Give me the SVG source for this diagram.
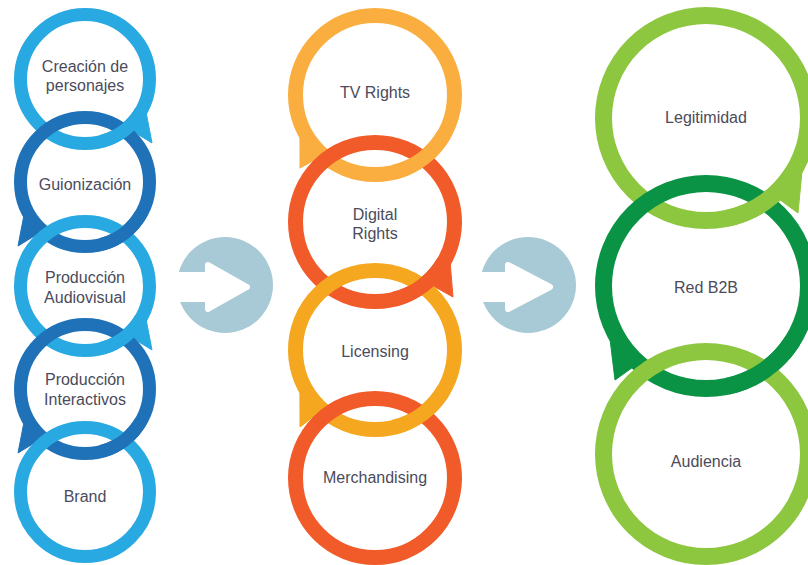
<svg xmlns="http://www.w3.org/2000/svg" width="808" height="565" viewBox="0 0 808 565">
<style>
.lbl{font-family:"Liberation Sans",Arial,sans-serif;font-size:16px;fill:#4b4b5b;text-anchor:middle}
.lb{stroke:#29a9e1;fill:#29a9e1}
.db{stroke:#1f72b8;fill:#1f72b8}
.yo{stroke:#fbae40;fill:#fbae40}
.or{stroke:#f15a29;fill:#f15a29}
.lo{stroke:#f4a71f;fill:#f4a71f}
.lg{stroke:#8dc63f;fill:#8dc63f}
.dg{stroke:#0a9344;fill:#0a9344}
.c1{stroke-width:13}
.c2{stroke-width:15}
.c3{stroke-width:17}
circle.ring, path.w{fill:none}
.tail{stroke-width:1;stroke-linejoin:round}
.arr{fill:#a8cad6}
.cut{fill:#ffffff;stroke:#ffffff;stroke-width:6;stroke-linejoin:round}
</style>
<rect width="808" height="565" fill="#ffffff"/>

<!-- Left column -->
<g id="n-creacion">
<polygon class="lb tail" points="145.9,111.4 152,143 131.2,130.3"/>
<circle class="ring lb c1" cx="85" cy="79" r="64.5"/>
<text class="lbl" x="85" y="72">Creación de</text>
<text class="lbl" x="85" y="91">personajes</text>
</g>
<g id="n-guionizacion">
<polygon class="db tail" points="24.1,214.4 18,246 38.8,233.3"/>
<circle class="ring db c1" cx="85" cy="182" r="64.5"/>
<text class="lbl" x="85" y="190">Guionización</text>
</g>
<g id="n-audiovisual">
<polygon class="lb tail" points="145.9,318.4 152,350 131.2,337.3"/>
<circle class="ring lb c1" cx="85" cy="286" r="64.5"/>
<text class="lbl" x="85" y="283">Producción</text>
<text class="lbl" x="85" y="303">Audiovisual</text>
</g>
<g id="n-interactivos">
<polygon class="db tail" points="24.1,421.4 18,453 38.8,440.3"/>
<circle class="ring db c1" cx="85" cy="389" r="64.5"/>
<text class="lbl" x="85" y="385">Producción</text>
<text class="lbl" x="85" y="405">Interactivos</text>
</g>
<g id="n-brand">
<circle class="ring lb c1" cx="85" cy="492" r="64.5"/>
<text class="lbl" x="85" y="502">Brand</text>
</g>

<!-- Middle column -->
<g id="n-tv">
<polygon class="yo tail" points="299.95,134.9 300,168 318.1,158.2"/>
<circle class="ring yo c2" cx="375" cy="95" r="79.5"/>
<text class="lbl" x="375" y="98">TV Rights</text>
</g>
<g id="n-digital">
<polygon class="or tail" points="450.05,261.9 453,297 431.9,285.2"/>
<circle class="ring or c2" cx="375" cy="222" r="79.5"/>
<text class="lbl" x="375" y="220">Digital</text>
<text class="lbl" x="375" y="239">Rights</text>
</g>
<g id="n-licensing">
<polygon class="lo tail" points="299.95,389.9 300,427 318.1,413.2"/>
<circle class="ring lo c2" cx="375" cy="350" r="79.5"/>
<text class="lbl" x="375" y="357">Licensing</text>
</g>
<g id="n-merch">
<circle class="ring or c2" cx="375" cy="478" r="79.5"/>
<text class="lbl" x="375" y="483">Merchandising</text>
</g>

<!-- Right column -->
<g id="n-legitimidad">
<polygon class="lg tail" points="802.2,169.2 798,213 778.9,199"/>
<circle class="ring lg c3" cx="706" cy="118" r="102.5"/>
<text class="lbl" x="706" y="123">Legitimidad</text>
</g>
<g id="n-redb2b">
<polygon class="dg tail" points="609.8,337.2 615,380 633.1,367"/>
<circle class="ring dg c3" cx="706" cy="286" r="102.5"/>
<text class="lbl" x="706" y="293">Red B2B</text>
</g>
<g id="n-audiencia">
<circle class="ring lg c3" cx="706" cy="454" r="102.5"/>
<text class="lbl" x="706" y="467">Audiencia</text>
</g>

<!-- weave overlays (upper ring over lower ring at right crossing) -->
<g id="weave">
<path class="w lb c1" d="M140.86,111.25 A64.5,64.5 0 0 1 101.69,141.30"/>
<path class="w db c1" d="M140.86,214.25 A64.5,64.5 0 0 1 101.69,244.30"/>
<path class="w lb c1" d="M140.86,318.25 A64.5,64.5 0 0 1 101.69,348.30"/>
<path class="w db c1" d="M140.86,421.25 A64.5,64.5 0 0 1 101.69,451.30"/>
<path class="w yo c2" d="M443.85,134.75 A79.5,79.5 0 0 1 394.23,172.14"/>
<path class="w or c2" d="M443.85,261.75 A79.5,79.5 0 0 1 394.23,299.14"/>
<path class="w lo c2" d="M443.85,389.75 A79.5,79.5 0 0 1 394.23,427.14"/>
<path class="w lg c3" d="M792.93,172.32 A102.5,102.5 0 0 1 727.31,218.26"/>
<path class="w dg c3" d="M792.93,340.32 A102.5,102.5 0 0 1 727.31,386.26"/>
</g>

<!-- Connectors (arrow discs) -->
<g id="connectors">
<g id="arrow1">
<circle class="arr" cx="225" cy="285" r="48"/>
<path class="cut" d="M160,275 H208 V265 L247,287 L208,309 V299 H160 Z"/>
</g>
<g id="arrow2">
<circle class="arr" cx="528" cy="285" r="48"/>
<path class="cut" d="M463,275 H508 V265 L550,287 L508,309 V299 H463 Z"/>
</g>
</g>
</svg>
